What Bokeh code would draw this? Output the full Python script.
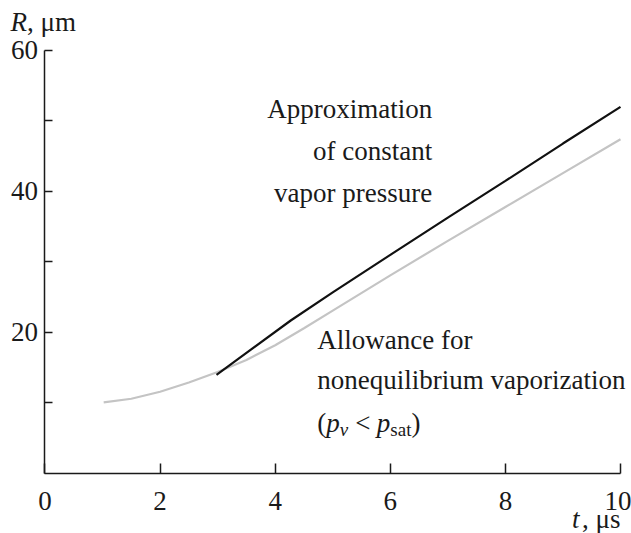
from bokeh.plotting import figure
from bokeh.models import Range1d, FixedTicker, Label
from bokeh.embed import file_html
from bokeh.resources import INLINE

# data
t_gray = [1.02, 1.5, 2.0, 2.5, 3.0, 3.5, 4.0, 4.5, 5.0, 6.0, 7.0, 8.0, 9.0, 10.0]
R_gray = [10.1, 10.6, 11.6, 12.9, 14.4, 16.1, 18.2, 20.6, 23.1, 28.1, 33.0, 37.8, 42.6, 47.4]
t_black = [2.98, 3.5, 4.27, 5.0, 6.0, 7.0, 8.0, 9.0, 10.0]
R_black = [14.0, 17.1, 21.7, 25.7, 31.0, 36.3, 41.5, 46.8, 52.0]
x_ticks = [0, 2, 4, 6, 8, 10]
y_major = [20, 40, 60]
y_minor = [10, 30, 50]

FONT = "Liberation Serif"
TXT = "#1a1a1a"
FS = 27

# frame fills the canvas; axes are pinned at t=0 / R=0 so that texts outside
# the axis box are not clipped
p = figure(width=631, height=533, output_backend="svg", toolbar_location=None,
           x_range=Range1d(-0.773, 10.191), y_range=Range1d(-8.51, 67.09),
           min_border=0)
p.outline_line_color = None
p.grid.visible = False
p.background_fill_color = "white"
p.border_fill_color = "white"

for ax in (p.xaxis, p.yaxis):
    ax.fixed_location = 0
    ax.axis_line_color = TXT
    ax.axis_line_width = 1.5
    ax.major_tick_line_color = TXT
    ax.major_tick_line_width = 1.5
    ax.minor_tick_line_color = TXT
    ax.minor_tick_line_width = 1.5
    ax.major_tick_out = 0
    ax.minor_tick_out = 0
    ax.major_label_text_font = FONT
    ax.major_label_text_font_size = f"{FS}px"
    ax.major_label_text_color = TXT

p.xaxis.bounds = (0, 10)
p.xaxis.ticker = FixedTicker(ticks=x_ticks, minor_ticks=[])
p.xaxis.major_tick_in = 10
p.xaxis.minor_tick_in = 0
p.xaxis.major_label_standoff = 18

p.yaxis.bounds = (0, 60)
p.yaxis.ticker = FixedTicker(ticks=y_major, minor_ticks=y_minor)
p.yaxis.major_tick_in = 8
p.yaxis.minor_tick_in = 8
p.yaxis.major_label_standoff = 7

p.line(t_gray, R_gray, line_color="#c4c4c4", line_width=2.2)
p.line(t_black, R_black, line_color="#111111", line_width=2.2)


def lab(x, y, text, italic=False, size=FS, dx=0, dy=0, align="left"):
    p.add_layout(Label(x=x, y=y, x_offset=dx, y_offset=dy, text=text,
                       text_font=FONT, text_font_size=f"{size}px",
                       text_font_style="italic" if italic else "normal",
                       text_color=TXT, text_align=align, text_baseline="alphabetic",
                       level="overlay"))


# upper annotation (right aligned)
xr = 6.73
lab(xr, 51.7, "Approximation", align="right")
lab(xr, 45.8, "of constant", align="right")
lab(xr, 39.8, "vapor pressure", align="right")

# lower annotation (left aligned)
xl = 4.73
lab(xl, 19.0, "Allowance for")
lab(xl, 13.2, "nonequilibrium vaporization")
y3 = 7.1
lab(xl, y3, "(")
lab(xl, y3, "p", italic=True, dx=9)
lab(xl, y3, "v", italic=True, size=19, dx=22.5, dy=-6)
lab(xl, y3, "<", dx=38.0)
lab(xl, y3, "p", italic=True, dx=59.6)
lab(xl, y3, "sat", size=19, dx=73.1, dy=-6)
lab(xl, y3, ")", dx=94.2)

# axis titles
lab(-0.6, 64.0, "R", italic=True)
lab(-0.6, 64.0, ", μm", dx=16.5)
lab(10, -6.5, ", μs", align="right")
lab(10, -6.5, "t", italic=True, dx=-41, align="right")

open("out.html", "w").write(file_html(p, INLINE))
